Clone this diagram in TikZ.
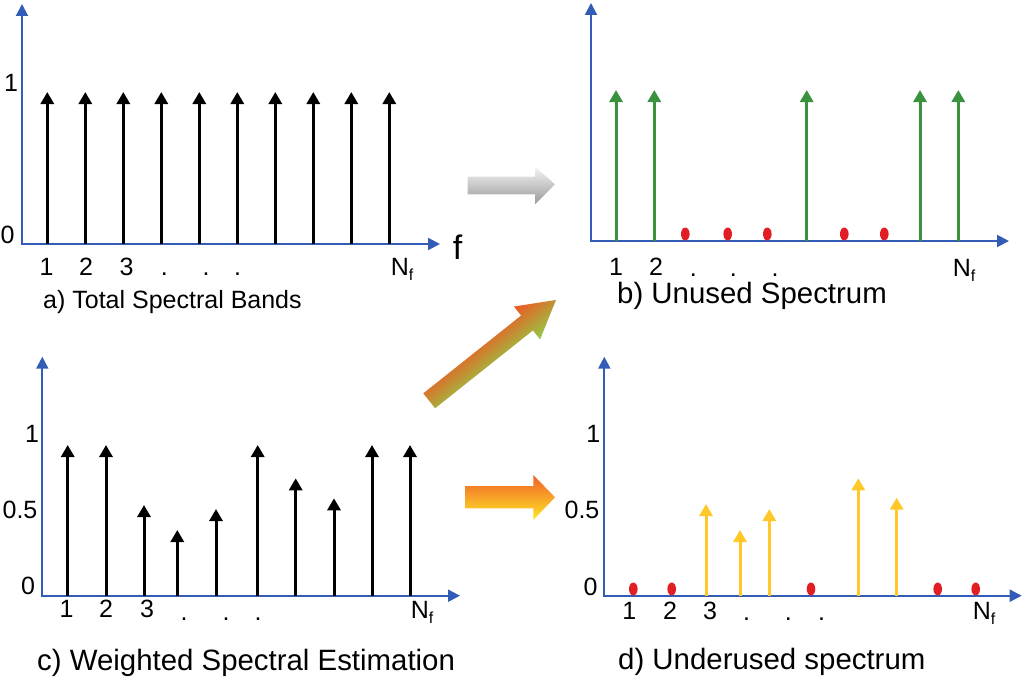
\documentclass[tikz,border=0pt]{standalone}
\usepackage{fontspec}
\setmainfont{Liberation Sans}
\usetikzlibrary{arrows.meta}
\definecolor{axisblue}{RGB}{50,92,182}
\definecolor{stemgreen}{RGB}{58,145,62}
\definecolor{dotred}{RGB}{225,30,35}
\definecolor{stemyellow}{RGB}{255,200,40}
\definecolor{arrorange}{RGB}{240,95,40}
\definecolor{arrred}{RGB}{240,85,35}
\definecolor{arrmid}{RGB}{242,165,55}
\definecolor{arrgreen}{RGB}{145,205,70}
\definecolor{arryellow}{RGB}{255,232,40}
\tikzset{
  axisline/.style={axisblue, line width=2pt, {Triangle[width=12pt,length=12pt]}-{Triangle[width=12pt,length=12pt]}},
  stemline/.style={line width=3pt, -{Triangle[width=13pt,length=12pt]}},
  lbl/.style={font=\fontsize{25}{25}\selectfont, inner sep=0pt},
  dotlbl/.style={font=\fontsize{25}{25}\selectfont, inner sep=0pt, anchor=base},
  nflbl/.style={font=\fontsize{25}{25}\selectfont, inner sep=0pt, anchor=base west},
  captext/.style={font=\fontsize{29.4}{30}\selectfont, inner sep=0pt, anchor=base west},
  capsmall/.style={font=\fontsize{25}{26}\selectfont, inner sep=0pt, anchor=base west},
  reddot/.style={fill=dotred},
}
\newcommand{\Nf}{N\raisebox{-5pt}{\fontsize{16}{16}\selectfont f}}
\begin{document}
\begin{tikzpicture}[x=1pt,y=-1pt]
\useasboundingbox (0,0) rectangle (1024,677);

% ---------- panel a ----------
\draw[axisline] (22,4) -- (22,244) -- (440,244);
\foreach \k in {0,...,9}
  \draw[stemline] ({47.3+38*\k},244) -- ({47.3+38*\k},92);
\node[lbl] (a1y) at (11,82.5) {1};
\node[lbl] (a0y) at (7.5,235) {0};
\node[font=\fontsize{34}{34}\selectfont, inner sep=0pt] (af) at (457.5,247.5) {f};
\node[lbl] (ax1) at (46.7,266.5) {1};
\node[lbl] (ax2) at (86,266.5) {2};
\node[lbl] (ax3) at (126.7,266.5) {3};
\node[dotlbl] (ad1) at (164.3,275) {.};
\node[dotlbl] (ad2) at (206,275) {.};
\node[dotlbl] (ad3) at (237.7,275) {.};
\node[nflbl] (anf) at (390.7,275) {\Nf};
\node[capsmall] (acap) at (43,308.3) {a) Total Spectral Bands};

% ---------- panel b ----------
\draw[axisline] (591,3) -- (591,241) -- (1009,241);
\foreach \x in {616,654.3,806.7,920,958.3}
  \draw[stemline, stemgreen] (\x,241) -- (\x,90);
\foreach \x in {685.3,727.7,767.3,844.3,884.3}
  \fill[reddot] (\x,234) ellipse (4.3 and 6.5);
\node[lbl] (bx1) at (616,267) {1};
\node[lbl] (bx2) at (656,267) {2};
\node[dotlbl] (bd1) at (693.3,276) {.};
\node[dotlbl] (bd2) at (733.3,276) {.};
\node[dotlbl] (bd3) at (775,276) {.};
\node[nflbl] (bnf) at (952.7,276) {\Nf};
\node[captext] (bcap) at (617,303) {b) Unused Spectrum};

% ---------- panel c ----------
\draw[axisline] (42.3,356.7) -- (42.3,595.7) -- (460,595.7);
\foreach \x/\t in {67.7/445,106/445,144/505,177.3/530,216/509,257.7/445,295.7/478.3,334/498.3,372/445,410/445}
  \draw[stemline] (\x,595.7) -- (\x,\t);
\node[lbl] (c1y) at (32,434) {1};
\node[lbl] (c5y) at (20,510) {0.5};
\node[lbl] (c0y) at (28,586) {0};
\node[lbl] (cx1) at (66.7,609) {1};
\node[lbl] (cx2) at (106,609) {2};
\node[lbl] (cx3) at (147,609) {3};
\node[dotlbl] (cd1) at (184,620) {.};
\node[dotlbl] (cd2) at (226,620) {.};
\node[dotlbl] (cd3) at (258,620) {.};
\node[nflbl] (cnf) at (410.7,618.3) {\Nf};
\node[captext] (ccap) at (37,670) {c) Weighted Spectral Estimation};

% ---------- panel d ----------
\draw[axisline] (604.3,356.7) -- (604.3,595.7) -- (1021.7,595.7);
\foreach \x/\t in {706/504,740/530,769.3/509,858.3/478.3,896.7/497.7}
  \draw[stemline, stemyellow] (\x,595.7) -- (\x,\t);
\foreach \x in {633.3,671.7,811,937.7,975.7}
  \fill[reddot] (\x,589) ellipse (4.3 and 6.5);
\node[lbl] (d1y) at (593.3,434) {1};
\node[lbl] (d5y) at (582,510) {0.5};
\node[lbl] (d0y) at (590.5,587) {0};
\node[lbl] (dx1) at (629.3,610.5) {1};
\node[lbl] (dx2) at (670,610.5) {2};
\node[lbl] (dx3) at (710,610.5) {3};
\node[dotlbl] (dd1) at (746.7,620) {.};
\node[dotlbl] (dd2) at (788.3,620) {.};
\node[dotlbl] (dd3) at (821.7,620) {.};
\node[nflbl] (dnf) at (972.7,619) {\Nf};
\node[captext] (dcap) at (618,669) {d) Underused spectrum};

% ---------- big arrows ----------
\shade[top color=gray!8, bottom color=gray!80]
  (467.7,176.7) -- (535,176.7) -- (535,166.7) -- (555,184.3) -- (535,204.3)
  -- (535,194.3) -- (467.7,194.3) -- cycle;
\shade[top color=arrorange, bottom color=arryellow]
  (465,486) -- (533.3,486) -- (533.3,475) -- (555,497.3) -- (533.3,520)
  -- (533.3,508.3) -- (465,508.3) -- cycle;
\begin{scope}[transform canvas={shift={(429.2,400.8)}, rotate=38.5}]
  \shade[top color=arrred, middle color=arrmid, bottom color=arrgreen]
    (0,-9.5) -- (125,-9.5) -- (125,-21) -- (162,0) -- (125,21) -- (125,9.5)
    -- (0,9.5) -- cycle;
\end{scope}
\end{tikzpicture}
\end{document}
